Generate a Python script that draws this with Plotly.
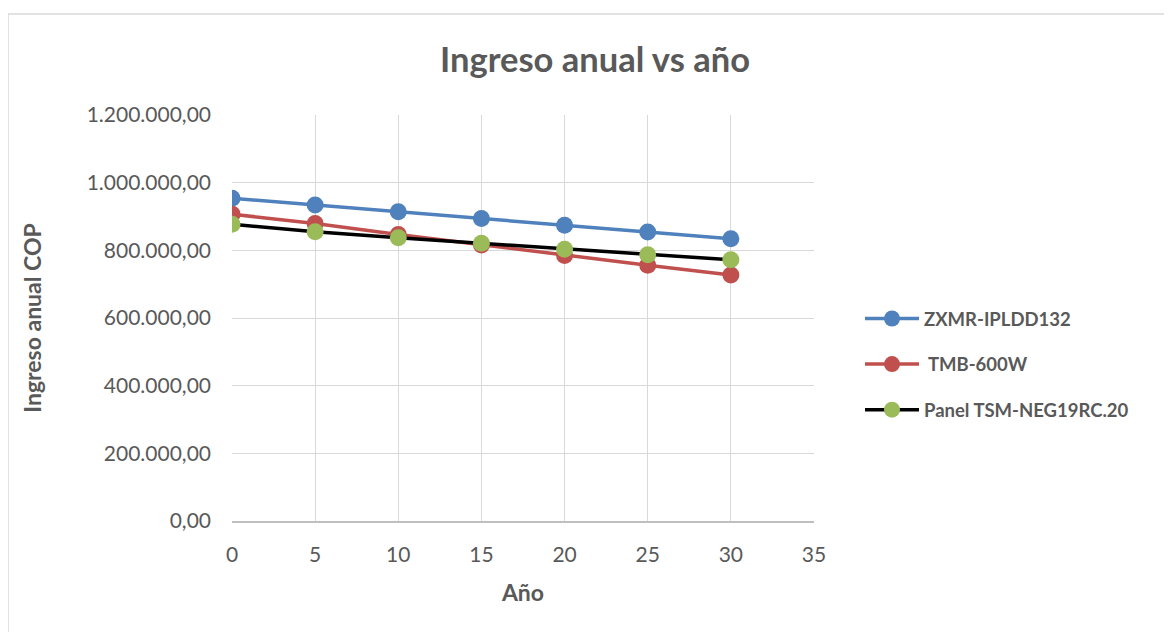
import plotly.graph_objects as go

years = [0, 5, 10, 15, 20, 25, 30]
zxmr = [954000, 934000, 914000, 894000, 874000, 854000, 834000]
tmb = [907000, 879000, 847000, 816000, 785000, 756000, 727000]
panel = [877000, 855000, 837000, 821000, 803000, 787000, 772000]

names = ["ZXMR-IPLDD132", " TMB-600W", "Panel TSM-NEG19RC.20"]
line_colors = ["#4F81BD", "#C0504D", "#000000"]
marker_colors = ["#4F81BD", "#C0504D", "#9BBB59"]

FONT = "Lato, 'Open Sans', sans-serif"
GREY = "#595959"

# page offset of 8px (browser body margin) is compensated in margins
L, T, PW, PH = 224, 107, 582, 406

fig = go.Figure()
for i, ys in enumerate([zxmr, tmb, panel]):
    fig.add_trace(go.Scatter(
        x=years, y=ys, name="<b>" + names[i] + "</b>", mode="lines+markers",
        line=dict(color=line_colors[i], width=3.5),
        marker=dict(color=marker_colors[i], size=17),
        legendgroup=f"g{i}",
    ))

fig.update_layout(
    width=1172, height=632,
    margin=dict(l=L, r=1172 - L - PW, t=T, b=632 - T - PH),
    paper_bgcolor="white", plot_bgcolor="white",
    separators=",.",
    font=dict(family=FONT, color=GREY, size=20),
    title=dict(text="<b>Ingreso anual vs año</b>", x=587 / 1172, xanchor="center",
               y=1 - 52 / 632, yanchor="middle",
               font=dict(size=34.5, color=GREY, family=FONT)),
    showlegend=True,
    legend=dict(x=(852 - L) / PW, y=(T + PH - 292) / PH, xanchor="left", yanchor="top",
                font=dict(size=18.5, color=GREY, family=FONT),
                traceorder="grouped", tracegroupgap=18.5, bgcolor="rgba(0,0,0,0)",
                itemwidth=54),
    xaxis=dict(range=[0, 35], dtick=5, tick0=0, showgrid=True, gridcolor="#d9d9d9",
               gridwidth=1, showline=True, linecolor="#bfbfbf", linewidth=1.5,
               zeroline=False, ticks="", ticklabelstandoff=14,
               tickfont=dict(size=21, color=GREY),
               title=dict(text="<b>Año</b>", font=dict(size=23, color=GREY), standoff=20)),
    yaxis=dict(range=[0, 1200000], dtick=200000, tickformat=",.2f", showgrid=True,
               gridcolor="#d9d9d9", gridwidth=1, zeroline=False, showline=False,
               ticks="", ticklabelstandoff=20, tickfont=dict(size=21, color=GREY),
               title=dict(text="<b>Ingreso anual COP</b>", font=dict(size=23, color=GREY),
                          standoff=38)),
)

fig.add_shape(type="rect", xref="paper", yref="paper",
              x0=(0 - L) / PW, x1=(1171 - L) / PW,
              y0=(T + PH - 640) / PH, y1=(T + PH - 6) / PH,
              line=dict(color="#d9d9d9", width=1.5), fillcolor="rgba(0,0,0,0)", layer="below")

fig.write_html("out.html")
